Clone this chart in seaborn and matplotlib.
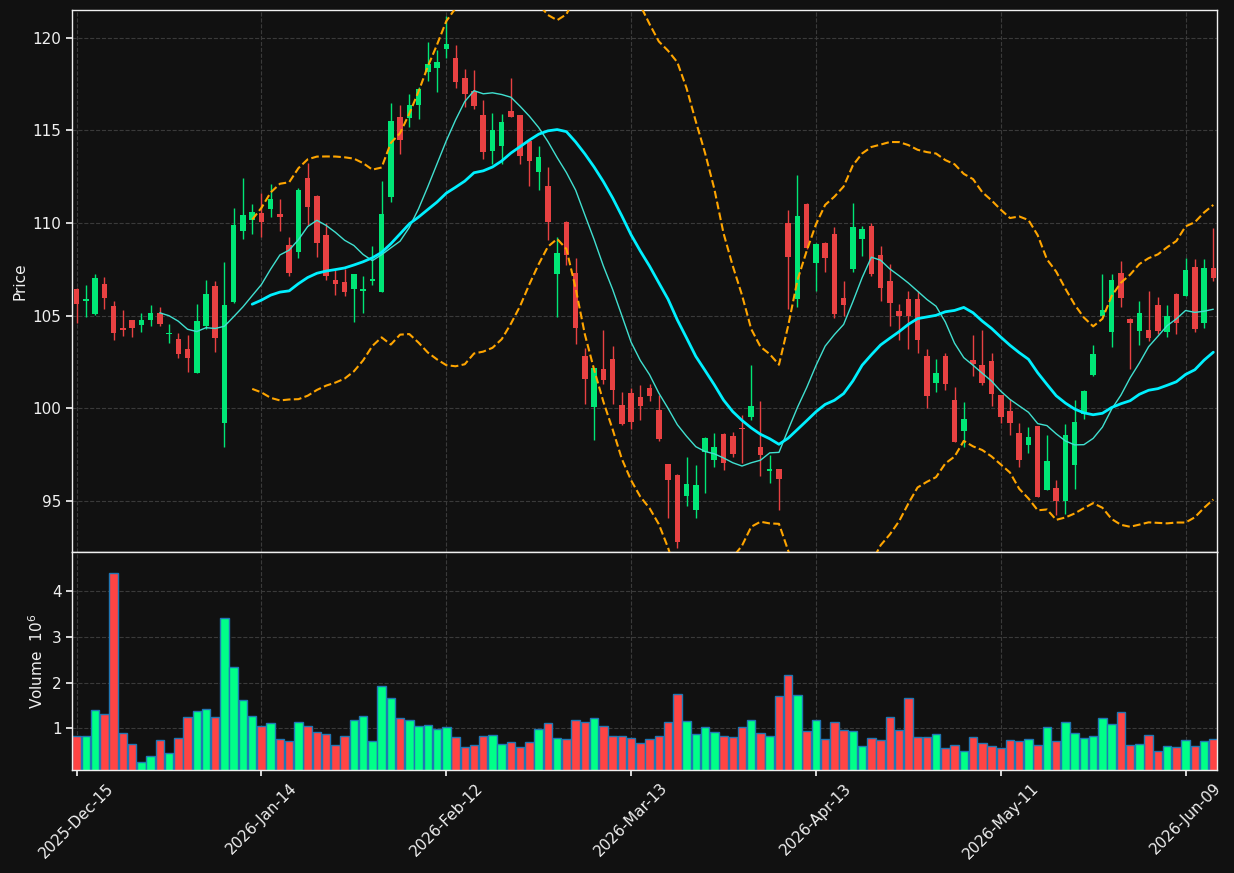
"""
Candlestick chart with moving averages, Bollinger bands and volume panel.
"""

import numpy as np
import pandas as pd
import matplotlib
matplotlib.use('Agg')
import matplotlib.pyplot as plt
import seaborn as sns

# OHLC values (one trading day per entry)
opens = [106.42, 105.79, 105.07, 106.74, 105.50, 104.32, 104.75, 104.50, 104.77, 105.13,
         104.01, 103.73, 103.19, 101.92, 104.43, 106.63, 99.23, 105.73, 109.59, 110.16,
         110.54, 110.77, 110.49, 108.81, 108.45, 112.43, 111.46, 109.35, 106.92, 106.81,
         106.45, 106.34, 106.88, 106.29, 111.42, 115.72, 115.69, 116.39, 118.18, 118.39,
         119.37, 118.92, 117.83, 117.15, 115.83, 113.88, 114.17, 116.05, 115.83, 114.42,
         112.74, 111.99, 107.27, 110.07, 107.33, 102.81, 100.09, 102.11, 102.65, 100.18,
         100.82, 100.61, 101.09, 99.91, 97.00, 96.42, 95.25, 94.50, 97.63, 97.19,
         98.64, 98.49, 98.94, 99.53, 97.90, 96.62, 96.71, 110.02, 105.89, 111.04,
         107.83, 108.94, 109.43, 105.98, 107.50, 109.12, 109.84, 108.30, 106.90, 105.23,
         105.93, 105.93, 102.81, 101.36, 102.81, 100.45, 98.80, 102.60, 102.33, 102.54,
         100.72, 99.86, 98.67, 98.05, 99.05, 95.59, 95.72, 95.00, 96.94, 99.71,
         101.80, 105.00, 104.12, 107.28, 104.80, 104.17, 104.21, 105.56, 104.12, 106.20,
         106.06, 107.61, 104.60, 107.55]
highs = [106.50, 106.67, 107.26, 107.10, 105.81, 105.32, 104.78, 105.16, 105.59, 105.45,
         104.57, 104.09, 103.96, 105.65, 106.95, 106.90, 107.92, 110.81, 112.41, 111.01,
         111.60, 112.11, 111.28, 109.26, 111.87, 113.23, 111.50, 109.98, 107.46, 107.50,
         107.26, 107.17, 108.79, 112.29, 116.47, 116.37, 116.95, 117.36, 119.80, 119.35,
         121.16, 119.62, 118.30, 118.27, 116.64, 115.92, 115.88, 117.82, 115.86, 114.45,
         114.15, 113.03, 109.24, 110.09, 108.12, 103.28, 102.19, 104.25, 103.35, 100.88,
         101.11, 101.24, 101.34, 100.70, 97.02, 96.44, 97.37, 96.94, 98.43, 98.66,
         98.66, 98.73, 99.66, 102.35, 100.41, 97.50, 96.73, 110.70, 112.59, 111.06,
         108.91, 108.96, 109.78, 106.89, 111.08, 109.82, 109.98, 108.76, 107.80, 105.65,
         106.36, 106.33, 103.23, 102.69, 103.01, 101.13, 100.32, 103.94, 104.25, 103.01,
         100.74, 100.48, 99.19, 98.98, 99.07, 98.58, 96.12, 99.14, 100.47, 101.01,
         103.44, 107.27, 107.27, 107.95, 104.87, 105.81, 106.35, 106.03, 105.59, 106.22,
         108.13, 108.08, 108.08, 109.74]
lows = [104.61, 104.93, 105.05, 105.36, 103.69, 103.91, 103.85, 104.12, 104.44, 104.44,
        103.55, 102.74, 101.97, 101.90, 104.28, 103.05, 97.90, 105.70, 109.15, 109.42,
        109.24, 110.34, 109.60, 107.15, 108.13, 109.89, 108.18, 106.95, 106.14, 106.07,
        104.67, 105.15, 106.68, 106.27, 111.15, 113.75, 115.16, 115.60, 117.69, 117.06,
        118.90, 117.27, 116.28, 116.14, 113.48, 113.18, 113.18, 115.72, 113.21, 112.02,
        111.81, 109.10, 104.95, 107.74, 103.49, 100.22, 98.30, 101.34, 100.22, 99.12,
        98.89, 99.39, 100.38, 98.23, 94.09, 92.47, 94.75, 94.09, 95.43, 96.83,
        96.70, 97.36, 97.07, 99.35, 96.37, 96.00, 94.54, 105.37, 105.48, 108.62,
        106.32, 107.34, 104.88, 105.01, 107.36, 108.22, 107.15, 105.77, 104.46, 103.71,
        103.23, 103.01, 100.00, 100.90, 100.97, 98.19, 97.90, 101.76, 101.25, 100.14,
        99.23, 98.58, 96.86, 97.58, 95.20, 95.57, 94.23, 94.32, 95.67, 99.44,
        101.74, 104.98, 103.31, 105.47, 102.14, 103.44, 103.62, 103.99, 103.85, 104.03,
        106.04, 104.14, 104.35, 106.89]
closes = [105.63, 105.90, 107.06, 105.95, 104.05, 104.23, 104.34, 104.75, 105.13, 104.55,
          104.05, 102.94, 102.72, 104.70, 106.15, 103.80, 105.56, 109.91, 110.43, 110.59,
          110.05, 111.28, 110.34, 107.30, 111.78, 110.88, 108.94, 107.15, 106.72, 106.29,
          107.24, 106.43, 106.99, 110.49, 115.51, 114.49, 116.37, 117.22, 118.57, 118.68,
          119.64, 117.64, 116.99, 116.34, 113.84, 115.02, 115.45, 115.74, 113.63, 113.36,
          113.56, 110.05, 108.36, 108.26, 104.34, 101.60, 102.17, 101.52, 101.00, 99.18,
          99.28, 100.13, 100.68, 98.37, 96.11, 92.78, 95.93, 95.88, 98.41, 97.92,
          97.06, 97.54, 98.89, 100.14, 97.49, 96.75, 96.19, 108.15, 110.39, 108.64,
          108.89, 108.10, 105.12, 105.60, 109.80, 109.69, 107.24, 106.49, 105.68, 104.98,
          104.98, 103.69, 100.68, 101.90, 101.33, 98.21, 99.43, 102.40, 101.36, 100.79,
          99.53, 99.21, 97.19, 98.44, 95.22, 97.14, 95.00, 98.54, 99.24, 100.92,
          102.91, 105.29, 106.91, 105.95, 104.60, 105.13, 103.80, 104.15, 104.96, 104.60,
          107.45, 104.26, 107.55, 107.01]
# volume in millions
volumes = [0.84, 0.84, 1.41, 1.32, 4.40, 0.91, 0.66, 0.27, 0.40, 0.75,
           0.47, 0.80, 1.26, 1.39, 1.43, 1.26, 3.41, 2.35, 1.63, 1.28,
           1.06, 1.12, 0.77, 0.73, 1.15, 1.06, 0.93, 0.88, 0.64, 0.84,
           1.19, 1.28, 0.73, 1.92, 1.67, 1.23, 1.19, 1.06, 1.08, 0.99,
           1.04, 0.82, 0.60, 0.64, 0.84, 0.86, 0.66, 0.71, 0.60, 0.71,
           0.99, 1.12, 0.80, 0.77, 1.19, 1.15, 1.23, 1.06, 0.84, 0.84,
           0.80, 0.69, 0.77, 0.84, 1.15, 1.76, 1.17, 0.88, 1.04, 0.93,
           0.84, 0.82, 1.02, 1.19, 0.91, 0.84, 1.70, 2.16, 1.74, 0.95,
           1.19, 0.77, 1.15, 0.97, 0.95, 0.62, 0.80, 0.75, 1.26, 0.97,
           1.67, 0.82, 0.82, 0.88, 0.58, 0.64, 0.51, 0.82, 0.69, 0.62,
           0.58, 0.75, 0.73, 0.77, 0.64, 1.02, 0.73, 1.15, 0.91, 0.80,
           0.84, 1.23, 1.10, 1.37, 0.64, 0.66, 0.86, 0.51, 0.62, 0.60,
           0.75, 0.62, 0.73, 0.77]

tick_pos = [0, 20, 40, 60, 80, 100, 120]
tick_labels = ['2025-Dec-15', '2026-Jan-14', '2026-Feb-12', '2026-Mar-13',
               '2026-Apr-13', '2026-May-11', '2026-Jun-09']

# Colors
BG = '#111111'
FG = '#f0f0f0'
GRID = '#3a3a3a'
UP = '#00e676'
DOWN = '#e84142'
VOL_UP = '#00ff88'
VOL_DOWN = '#ff4444'


def main():
    df = pd.DataFrame({'open': opens, 'high': highs, 'low': lows,
                       'close': closes, 'vol': volumes})
    df['idx'] = np.arange(len(df))
    df['up'] = df['close'] >= df['open']
    df['dir'] = np.where(df['up'], 'up', 'down')
    df['ma10'] = df['close'].rolling(10).mean()
    df['ma20'] = df['close'].rolling(20).mean()
    std20 = df['close'].rolling(20).std()
    df['bb_up'] = df['ma20'] + 2 * std20
    df['bb_lo'] = df['ma20'] - 2 * std20

    sns.set_theme(style='dark', rc={
        'axes.facecolor': BG, 'figure.facecolor': BG,
        'text.color': FG, 'axes.labelcolor': FG,
        'xtick.color': FG, 'ytick.color': FG, 'axes.edgecolor': FG,
    })
    plt.rcParams['font.family'] = ['DejaVu Sans']

    W, H = 1234, 873
    fig = plt.figure(figsize=(W / 100, H / 100), dpi=100)
    left, right = 72 / W, 1217 / W
    ax = fig.add_axes([left, 1 - 552 / H, right - left, 542 / H])
    axv = fig.add_axes([left, 1 - 770 / H, right - left, 218 / H])

    # Candles
    ccol = np.where(df['up'], UP, DOWN)
    ax.vlines(df['idx'], df['low'], df['high'], colors=ccol, linewidth=1, zorder=3)
    body_lo = np.minimum(df['open'], df['close'])
    body_h = np.maximum((df['close'] - df['open']).abs(), 0.07)
    ax.bar(df['idx'], body_h, bottom=body_lo, width=0.6, color=ccol,
           linewidth=0, zorder=4)

    # Overlays
    sns.lineplot(data=df, x='idx', y='ma10', ax=ax, color='#40e0d0',
                 linewidth=1, zorder=5)
    sns.lineplot(data=df, x='idx', y='ma20', ax=ax, color='#00f0ff',
                 linewidth=2, zorder=5)
    for col in ['bb_up', 'bb_lo']:
        sns.lineplot(data=df, x='idx', y=col, ax=ax, color='orange',
                     linewidth=1.5, linestyle='--', zorder=5)

    ax.set_xlim(-0.5, 123.4)
    ax.set_ylim(92.25, 121.5)
    ax.set_xticks(tick_pos)
    ax.tick_params(axis='x', labelbottom=False, length=0)
    ax.tick_params(axis='y', left=True, length=4, labelsize=11)
    ax.set_xlabel('')
    ax.set_ylabel('Price', fontsize=11)
    ax.grid(True, linestyle='--', color=GRID, linewidth=0.8)

    # Volume
    sns.barplot(data=df, x='idx', y='vol', hue='dir',
                palette={'up': VOL_UP, 'down': VOL_DOWN}, dodge=False,
                saturation=1, width=0.92, edgecolor='#1f77b4', linewidth=1,
                errorbar=None, legend=False, ax=axv)
    axv.set_xlim(-0.5, 123.4)
    axv.set_ylim(0.09, 4.86)
    axv.set_yticks([1, 2, 3, 4])
    axv.set_xticks(tick_pos)
    axv.set_xticklabels(tick_labels, rotation=45, fontsize=11)
    axv.tick_params(axis='x', bottom=True, length=4)
    axv.tick_params(axis='y', left=True, length=4, labelsize=11)
    axv.set_xlabel('')
    axv.set_ylabel('Volume  $10^{6}$', fontsize=11)
    axv.grid(True, linestyle='--', color=GRID, linewidth=0.8)
    axv.set_axisbelow(True)

    for a in (ax, axv):
        for s in a.spines.values():
            s.set_color(FG)
            s.set_linewidth(1)
            s.set_visible(True)

    fig.savefig('out.png', dpi=100, facecolor=BG)
    plt.close(fig)


if __name__ == '__main__':
    main()
